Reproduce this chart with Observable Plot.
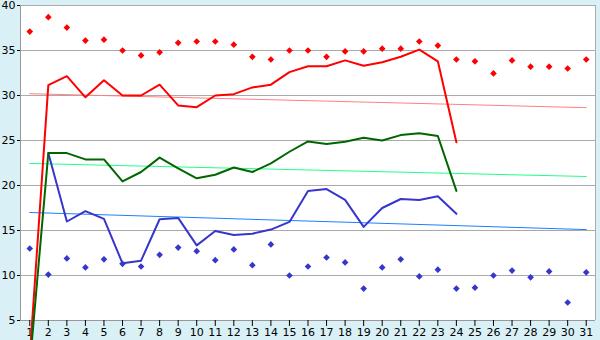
<!DOCTYPE html>
<html>
<head>
<meta charset="utf-8">
<script src="https://cdn.jsdelivr.net/npm/d3@7"></script>
<script src="https://cdn.jsdelivr.net/npm/@observablehq/plot@0.6"></script>
<style>
  html, body { margin: 0; padding: 0; background: #d9f0f6; }
  #chart { width: 600px; height: 340px; }
</style>
</head>
<body>
<div id="chart"></div>
<script>
const days = [1,2,3,4,5,6,7,8,9,10,11,12,13,14,15,16,17,18,19,20,21,22,23,24,25,26,27,28,29,30,31];
const yTicks = [5,10,15,20,25,30,35,40];

const redLine = [1, 31.15, 32.15, 29.8, 31.7, 30.0, 30.0, 31.2, 28.9, 28.7, 30.0, 30.15, 30.9, 31.2, 32.6, 33.25, 33.25, 33.9, 33.3, 33.7, 34.3, 35.1, 33.8, 24.8];
const greenLine = [0, 23.6, 23.6, 22.9, 22.9, 20.45, 21.5, 23.1, 21.9, 20.8, 21.2, 22.0, 21.5, 22.45, 23.75, 24.9, 24.6, 24.85, 25.3, 25.0, 25.6, 25.8, 25.5, 19.4];
const blueLine = [null, 23.6, 16.0, 17.15, 16.3, 11.35, 11.65, 16.25, 16.4, 13.35, 14.95, 14.5, 14.65, 15.1, 15.95, 19.4, 19.6, 18.4, 15.4, 17.5, 18.5, 18.4, 18.8, 16.85];
const maxPts = [37.1, 38.7, 37.55, 36.1, 36.2, 35.0, 34.45, 34.8, 35.85, 36.0, 36.0, 35.65, 34.3, 34.0, 35.0, 35.0, 34.3, 34.9, 34.9, 35.2, 35.2, 36.0, 35.55, 34.0, 33.8, 32.45, 33.9, 33.2, 33.2, 33.0, 34.0];
const minPts = [13.0, 10.1, 11.9, 10.9, 11.8, 11.3, 11.0, 12.3, 13.1, 12.7, 11.7, 12.9, 11.15, 13.45, 10.0, 11.0, 12.0, 11.45, 8.55, 10.9, 11.8, 9.9, 10.65, 8.55, 8.65, 10.0, 10.55, 9.8, 10.45, 7.0, 10.35];
// trend lines: value at first and last day
const trendDays = [1, 31];
const redTrend = [30.2, 28.65];
const greenTrend = [22.45, 21.0];
const blueTrend = [17.0, 15.1];

const series = (vals) => vals.map((v, i) => ({day: days[i], v})).filter(d => d.v != null);
const trend = (vals) => vals.map((v, i) => ({day: trendDays[i], v}));

const chart = Plot.plot({
  width: 600,
  height: 340,
  marginLeft: 20,
  marginRight: 5,
  marginTop: 5,
  marginBottom: 20,
  style: {fontFamily: "DejaVu Sans, Verdana, sans-serif", fontSize: "11px", background: "#d9f0f6", color: "#000"},
  x: {domain: [0.5, 31.5], axis: null},
  y: {domain: [5, 40], axis: null},
  marks: [
    Plot.frame({fill: "white", stroke: "none"}),
    Plot.gridY(yTicks.slice(1, -1), {stroke: "#aaaaaa", strokeOpacity: 1}),
    Plot.ruleY([40], {stroke: "#aaaaaa"}),
    Plot.ruleX([31.5], {stroke: "#aaaaaa"}),
    Plot.ruleY([5], {stroke: "#999999"}),
    Plot.ruleX([0.5], {stroke: "#999999"}),
    Plot.axisY(yTicks, {tickSize: 3, tickPadding: 2, label: null, tickFormat: d => d, stroke: "#000"}),
    Plot.axisX(days, {tickSize: 6, tickPadding: 2, label: null, tickFormat: d => d, stroke: "#000"}),
    Plot.line(trend(redTrend), {x: "day", y: "v", stroke: "#ff8080", strokeWidth: 1}),
    Plot.line(trend(greenTrend), {x: "day", y: "v", stroke: "#22ff88", strokeWidth: 1}),
    Plot.line(trend(blueTrend), {x: "day", y: "v", stroke: "#1a80ff", strokeWidth: 1}),
    Plot.line(series(blueLine), {x: "day", y: "v", stroke: "#3636cc", strokeWidth: 2}),
    Plot.line(series(redLine), {x: "day", y: "v", stroke: "#ff0000", strokeWidth: 2}),
    Plot.line(series(greenLine), {x: "day", y: "v", stroke: "#006600", strokeWidth: 2}),
    Plot.dot(series(maxPts), {x: "day", y: "v", symbol: "diamond2", r: 3, fill: "#ff0000", stroke: "none"}),
    Plot.dot(series(minPts), {x: "day", y: "v", symbol: "diamond2", r: 3, fill: "#3636cc", stroke: "none"})
  ]
});
document.getElementById("chart").appendChild(chart);
</script>
</body>
</html>
